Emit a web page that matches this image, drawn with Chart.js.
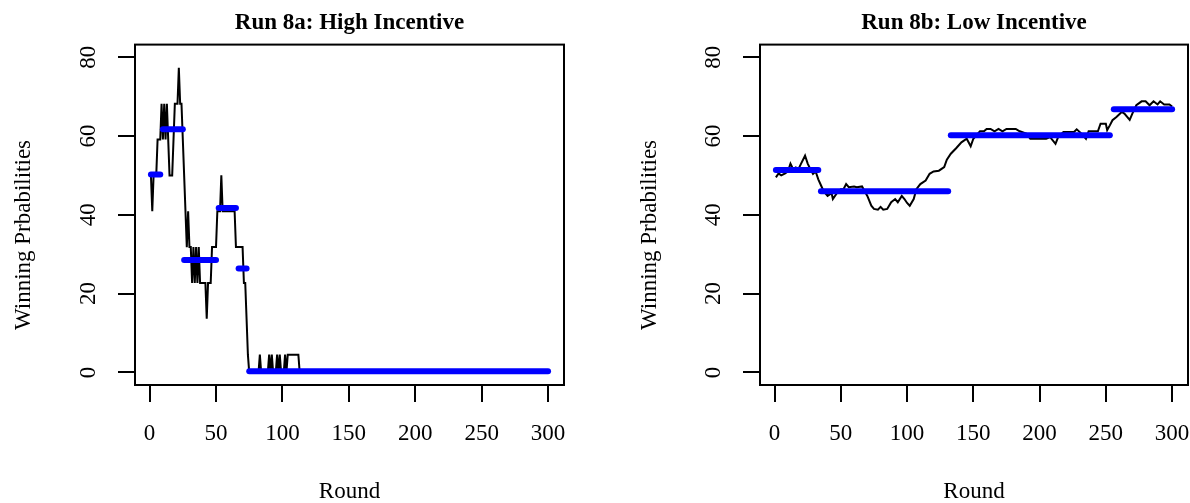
<!DOCTYPE html>
<html lang="en">
<head>
<meta charset="UTF-8">
<title>Run 8: Winning Probabilities</title>
<style>
  html, body { margin: 0; padding: 0; background: #fff; }
  .panel { position: absolute; top: 0; width: 595px; height: 503px; }
  #left { left: 0; }
  #right { left: 595px; }
</style>
</head>
<body>
<div class="panel" id="left"><canvas id="chartA"></canvas></div>
<div class="panel" id="right"><canvas id="chartB"></canvas></div>

<script src="https://cdn.jsdelivr.net/npm/chart.js"></script>
<script>
// axis ticks
const roundTicks = [0, 50, 100, 150, 200, 250, 300];
const probTicks = [0, 20, 40, 60, 80];

// Run 8a (high incentive): round -> winning probability
const roundsA = [1,2,3,4,5,6,7,8,9,10,11,12,13,14,15,16,17,18,19,20,
  21,22,23,24,25,26,27,28,29,30,31,32,33,34,35,36,37,38,
  42,43,44,46,47,50,51,53,54,55,64,65,70,71,72,73,74,75,
  82,83,84,89,90,91,92,93,95,96,97,98,99,101,102,103,104,112,113,300];
const winA = [50,40.9,50,50,50,59.1,59.1,59.1,68.2,59.1,68.2,59.1,68.2,59.1,50,50,50,59.1,68.2,68.2,
  68.2,77.3,68.2,68.2,59.1,50,40.9,31.8,40.9,31.8,31.8,22.7,31.8,22.7,31.8,22.7,31.8,22.7,
  22.7,13.6,22.7,22.7,31.8,31.8,40.9,40.9,50,40.9,40.9,31.8,31.8,22.7,22.7,13.6,4.5,0,
  0,4.5,0,0,4.5,0,4.5,0,0,4.5,0,4.5,0,0,4.5,0,4.5,4.5,0,0];
// segment means (blue)
const segStartA = [1, 10, 26, 52, 67, 75];
const segEndA = [8, 25, 50, 65, 73, 300];
const segMeanA = [50.2, 61.7, 28.5, 41.7, 26.4, 0.3];

// Run 8b (low incentive)
const roundsB = [1,3,5,8,10,12,14,16,18,20,23,25,27,29,31,33,35,37,40,43,44,47,50,52,54,56,60,62,66,68,
  70,73,75,78,80,82,85,88,91,93,96,98,100,102,105,107,110,114,117,120,124,128,130,133,137,141,145,148,150,155,
  158,160,163,166,169,172,175,182,185,190,193,205,208,212,214,218,226,228,231,235,237,244,246,250,251,253,255,258,262,264,
  268,270,273,277,280,283,286,289,291,294,298,300];
const winB = [49.5,50.5,50,50.5,51,53,51.6,52,51.6,53,55,53,51.6,50.4,51,49,47.5,46,44.8,45.5,44,45.5,46.5,46.5,47.8,47,47.2,47,47.2,46,
  44.8,42.3,41.5,41.3,42,41.3,41.5,43.2,44,43.2,44.8,44,43,42.3,44,46.5,47.8,48.7,50.4,51,51.2,52.1,54,55.5,56.9,58.4,59.3,57.4,59.3,61.2,
  61.2,61.8,61.8,61.2,61.8,61.2,61.8,61.8,61.2,60.6,59.3,59.3,59.7,58,59.7,61,61,61.7,60.8,59.3,61.2,61.2,63.1,63.1,61.5,62.7,64,64.8,66.1,65.7,
  64.1,65.7,67.8,68.8,68.8,67.8,68.8,68,68.8,68,68,67.5];
const segStartB = [1, 35, 133, 256];
const segEndB = [33, 131, 253, 300];
const segMeanB = [51.4, 46.0, 60.2, 66.8];

const SERIF = '"Liberation Serif", "Times New Roman", serif';

// box around the plot + rotated y title
const framePlugin = {
    id: 'frame',
    afterDraw(chart, args, opts) {
        const ctx = chart.ctx;
        const a = chart.chartArea;
        ctx.save();
        ctx.strokeStyle = '#000';
        ctx.lineWidth = 2;
        ctx.strokeRect(a.left, a.top, a.right - a.left, a.bottom - a.top);
        ctx.translate(opts.titleX, opts.titleY);
        ctx.rotate(-Math.PI / 2);
        ctx.font = '23px ' + SERIF;
        ctx.fillStyle = '#000';
        ctx.textAlign = 'center';
        ctx.textBaseline = 'middle';
        ctx.fillText(opts.text, 0, 0);
        ctx.restore();
    }
};

function buildChart(id, title, rounds, win, segStart, segEnd, segMean, pad, yWidth, yTitleX) {
    const datasets = [];
    // blue segments first so they sit on top of the black line
    for (let i = 0; i < segStart.length; i++) {
        datasets.push({
            data: [{ x: segStart[i], y: segMean[i] }, { x: segEnd[i], y: segMean[i] }],
            borderColor: '#0000ff',
            borderWidth: 6,
            borderCapStyle: 'round',
            pointRadius: 0
        });
    }
    datasets.push({
        data: rounds.map((r, i) => ({ x: r, y: win[i] })),
        borderColor: '#000',
        borderWidth: 2,
        pointRadius: 0,
        tension: 0
    });

    return new Chart(document.getElementById(id), {
        type: 'line',
        data: { datasets: datasets },
        plugins: [framePlugin],
        options: {
            responsive: true,
            maintainAspectRatio: false,
            animation: false,
            layout: { padding: pad },
            plugins: {
                legend: { display: false },
                tooltip: { enabled: false },
                title: {
                    display: true,
                    text: title,
                    fullSize: false,
                    color: '#000',
                    font: { family: SERIF, size: 23, weight: 'bold' },
                    padding: { top: 9, bottom: 8 }
                },
                frame: { text: 'Winning Prbabilities', titleX: yTitleX, titleY: 235 }
            },
            scales: {
                x: {
                    type: 'linear',
                    min: -11,
                    max: 312,
                    afterBuildTicks: s => { s.ticks = roundTicks.map(v => ({ value: v })); },
                    afterFit: s => { s.height = 118; s.paddingLeft = 0; s.paddingRight = 0; },
                    border: { display: false },
                    grid: { drawOnChartArea: false, tickLength: 17, color: '#000', lineWidth: 2 },
                    ticks: { color: '#000', font: { family: SERIF, size: 23 }, padding: 18, maxRotation: 0, autoSkip: false },
                    title: { display: true, text: 'Round', color: '#000', font: { family: SERIF, size: 23 }, padding: { top: 0, bottom: -3 } }
                },
                y: {
                    min: -3.2,
                    max: 83.2,
                    afterBuildTicks: s => { s.ticks = probTicks.map(v => ({ value: v })); },
                    afterFit: s => { s.width = yWidth; s.paddingTop = 0; s.paddingBottom = 0; },
                    border: { display: false },
                    grid: { drawOnChartArea: false, tickLength: 17, color: '#000', lineWidth: 2 },
                    ticks: { color: '#000', font: { family: SERIF, size: 23 }, padding: 18, minRotation: 90, maxRotation: 90, crossAlign: 'center' }
                }
            }
        }
    });
}

buildChart('chartA', 'Run 8a: High Incentive', roundsA, winA, segStartA, segEndA, segMeanA,
    { left: 0, right: 31, top: 0, bottom: 0 }, 135, 24);
buildChart('chartB', 'Run 8b: Low Incentive', roundsB, winB, segStartB, segEndB, segMeanB,
    { left: 27, right: 2, top: 0, bottom: 0 }, 138, 55);
</script>
</body>
</html>
